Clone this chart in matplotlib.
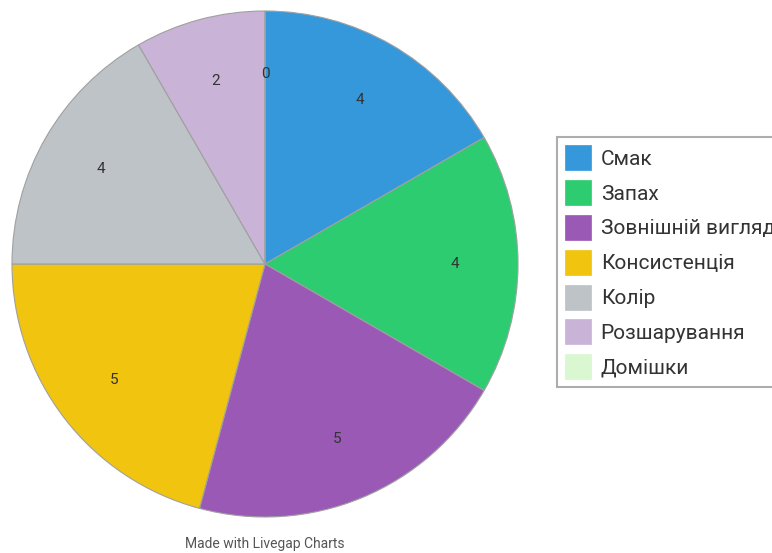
import matplotlib
matplotlib.use("Agg")
import matplotlib.pyplot as plt
from matplotlib.patches import Patch

categories = ["Смак", "Запах", "Зовнішній вигляд", "Консистенція", "Колір", "Розшарування", "Домішки"]
values = [4, 4, 5, 5, 4, 2, 0]
colors = ["#3498db", "#2ecc71", "#9b59b6", "#f1c40f", "#bdc3c7", "#c9b3d6", "#d9f7d0"]

plt.rcParams['font.family'] = ['Roboto', 'DejaVu Sans']

W, H = 772, 553
fig = plt.figure(figsize=(W / 100, H / 100), dpi=100)
cx, cy, r = 265, 264, 253
ax = fig.add_axes([(cx - r) / W, (H - cy - r) / H, 2 * r / W, 2 * r / H])
wedges, texts = ax.pie(values, colors=colors, startangle=90, counterclock=False,
                       labels=[str(v) for v in values], labeldistance=0.75,
                       wedgeprops=dict(edgecolor="#a0a0a0", linewidth=0.8),
                       textprops=dict(fontsize=11, color="#333333"))
for t in texts:
    t.set_horizontalalignment("center")
    t.set_verticalalignment("center")
for w in wedges:
    w.set_clip_on(False)
ax.set_xlim(-1, 1)
ax.set_ylim(-1, 1)
ax.set_aspect("equal")
ax.axis("off")

handles = [Patch(facecolor=c, edgecolor=c, linewidth=0.5) for c in colors]
leg = fig.legend(handles, categories, loc="upper left",
                 bbox_to_anchor=(557 / W, 1 - 137 / H), borderaxespad=0,
                 fontsize=15, handlelength=1.25, handleheight=1.47,
                 handletextpad=0.45, labelspacing=0.47, borderpad=0.4,
                 fancybox=False, frameon=True)
leg.get_frame().set_edgecolor("#999999")
leg.get_frame().set_linewidth(1.5)
for t in leg.get_texts():
    t.set_color("#333333")

fig.text(265 / W, 1 - 544 / H, "Made with Livegap Charts", ha="center", va="center",
         fontsize=10, color="#555555")

fig.savefig("out.png", dpi=100)
